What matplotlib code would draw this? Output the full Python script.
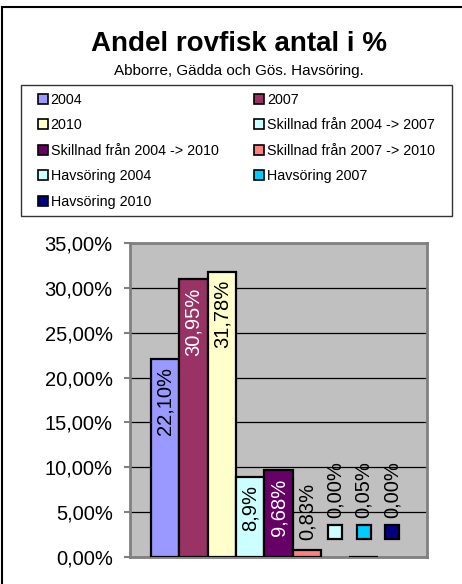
import matplotlib
matplotlib.use("Agg")
import matplotlib.pyplot as plt
from matplotlib.patches import Patch, Rectangle
from matplotlib.lines import Line2D
from matplotlib.colors import to_rgb
from matplotlib.transforms import ScaledTranslation

plt.rcParams['font.family'] = ['Liberation Sans', 'DejaVu Sans']

# data
series = ["2004", "2007", "2010",
          "Skillnad från 2004 -> 2007", "Skillnad från 2004 -> 2010",
          "Skillnad från 2007 -> 2010",
          "Havsöring 2004", "Havsöring 2007", "Havsöring 2010"]
values = [0.2210, 0.3095, 0.3178, 0.089, 0.0968, 0.0083, 0.0, 0.0005, 0.0]
labels = ["22,10%", "30,95%", "31,78%", "8,9%", "9,68%", "0,83%",
          "0,00%", "0,05%", "0,00%"]
colors = ["#9999FF", "#993366", "#FFFFCC", "#CCFFFF", "#660066",
          "#FF8080", "#CCFFFF", "#00CCFF", "#000080"]
yticks = [0, 0.05, 0.10, 0.15, 0.20, 0.25, 0.30, 0.35]

fig = plt.figure(figsize=(4.62, 5.84), dpi=100)
ax = fig.add_axes([130 / 462, 1 - 557 / 584, 297 / 462, 314 / 584])
ax.set_facecolor("#C0C0C0")

for i, v in enumerate(values):
    ax.bar(i, v, width=1.0, color=colors[i], edgecolor="black",
           linewidth=1.6 if v > 0 else 0, zorder=3)

def is_dark(c):
    r, g, b = to_rgb(c)
    return 0.299 * r + 0.587 * g + 0.114 * b < 0.5

# data labels
key_shift = ax.transData + ScaledTranslation(0, 18 / 72, fig.dpi_scale_trans)
for i, v in enumerate(values):
    if v >= 0.05:
        ax.annotate(labels[i], (i, v), xytext=(0, -6), textcoords="offset points",
                    rotation=90, ha="center", va="top", fontsize=14.5,
                    color="white" if is_dark(colors[i]) else "black", zorder=4)
    elif series[i].startswith("Havsöring"):
        # label with legend key
        ax.plot([i], [v], marker="s", markersize=10, markerfacecolor=colors[i],
                markeredgecolor="black", markeredgewidth=1.6, linestyle="none",
                zorder=4, transform=key_shift, clip_on=False)
        ax.annotate(labels[i], (i, v), xytext=(0, 28), textcoords="offset points",
                    rotation=90, ha="center", va="bottom", fontsize=14.5, zorder=4)
    else:
        ax.annotate(labels[i], (i, v), xytext=(0, 7), textcoords="offset points",
                    rotation=90, ha="center", va="bottom", fontsize=14.5, zorder=4)

ax.set_xlim(-1.24, len(values) - 1 + 1.24)
ax.set_ylim(0, 0.35)
ax.set_yticks(yticks)
ax.set_yticklabels([f"{t * 100:.2f}%".replace(".", ",") for t in yticks], fontsize=14.5)
ax.set_xticks([])
ax.yaxis.grid(True, color="black", linewidth=0.9)
ax.set_axisbelow(True)
ax.tick_params(axis="y", length=4.5, width=1.5, color="#808080", pad=8)
for s in ax.spines.values():
    s.set_color("#808080")
    s.set_linewidth(2)

# title
fig.text(0.517, 1 - 44 / 584, "Andel rovfisk antal i %", ha="center", va="center",
         fontsize=20, fontweight="bold")
fig.text(0.517, 1 - 71 / 584, "Abborre, Gädda och Gös. Havsöring.", ha="center",
         va="center", fontsize=11)

# legend box
fig.add_artist(Rectangle((21 / 462, 1 - 216 / 584), 431 / 462, 131 / 584,
                         transform=fig.transFigure, facecolor="white",
                         edgecolor="#333333", linewidth=1, zorder=1))

# legend, row-wise order like the original
handles = [Patch(facecolor=c, edgecolor="black", linewidth=1.2) for c in colors]
order = list(range(0, len(series), 2)) + list(range(1, len(series), 2))
leg = fig.legend([handles[i] for i in order], [series[i] for i in order],
                 ncol=2, loc="upper left", mode="expand",
                 bbox_to_anchor=(30 / 462, 1 - 216 / 584, 413 / 462, 131 / 584),
                 fontsize=10.3, frameon=False,
                 handlelength=0.7, handleheight=0.7,
                 handletextpad=0.2, labelspacing=0.8, borderpad=0.55,
                 borderaxespad=0)
leg.set_zorder(2)

# outer frame (left and top only visible)
fig.add_artist(Line2D([2 / 462, 2 / 462], [0, 1 - 7 / 584], color="black",
                      linewidth=1.5, transform=fig.transFigure))
fig.add_artist(Line2D([2 / 462, 1], [1 - 7 / 584, 1 - 7 / 584], color="black",
                      linewidth=1.5, transform=fig.transFigure))

fig.savefig("out.png", dpi=100)
